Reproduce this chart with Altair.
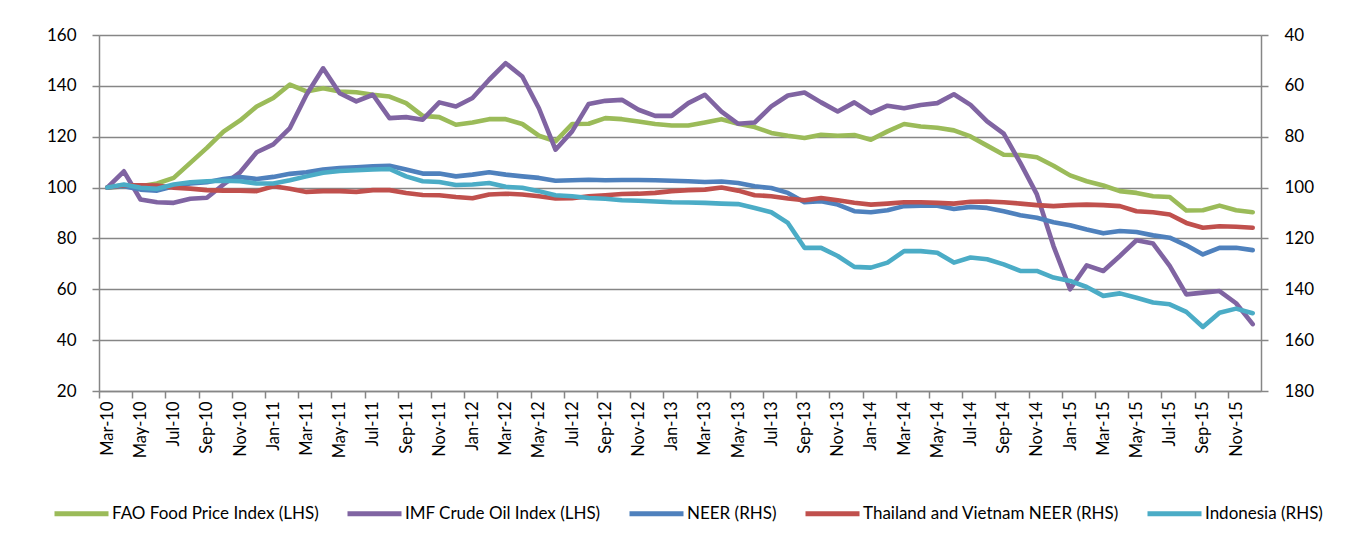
import altair as alt
import pandas as pd

mon = ["Jan", "Feb", "Mar", "Apr", "May", "Jun", "Jul", "Aug", "Sep", "Oct", "Nov", "Dec"]
months = []
for yy in range(10, 16):
    for mi, m in enumerate(mon):
        if yy == 10 and mi < 2:
            continue
        months.append(f"{m}-{yy}")

# Left-hand scale series
fao = [100, 100.4, 100.5, 101.6, 103.8, 109.7, 115.6, 122, 126.4, 131.9,
       135.2, 140.5, 137.8, 139.1, 137.8, 137.5, 136.5, 135.8, 133.2, 128.2,
       127.7, 124.7, 125.6, 126.9, 126.9, 125, 120.4, 118.2, 125, 125.1,
       127.3, 126.9, 126, 125, 124.4, 124.4, 125.6, 126.9, 125.1, 123.8,
       121.5, 120.4, 119.5, 120.8, 120.4, 120.7, 118.8, 122.1, 125, 124,
       123.5, 122.5, 120.1, 116.5, 112.9, 112.8, 111.9, 108.6, 104.8, 102.5,
       100.8, 98.6, 97.9, 96.6, 96.3, 91, 91.1, 92.9, 91.1, 90.3]
oil = [100, 106.4, 95.3, 94.2, 94, 95.6, 96, 101.2, 106, 113.9,
       117, 123.4, 136.5, 146.9, 137.1, 133.9, 136.5, 127.3, 127.7, 126.7,
       133.5, 131.9, 135.2, 142.4, 148.9, 143.7, 131.2, 114.9, 122.1, 132.9,
       134.1, 134.5, 130.6, 128.2, 128.2, 133.2, 136.5, 129.9, 125.1, 125.6,
       131.9, 136.2, 137.4, 133.5, 129.9, 133.5, 129.3, 132.2, 131.2, 132.5,
       133.2, 136.7, 132.5, 126, 121.2, 109.7, 97.3, 77, 60, 69.4,
       67.2, 73.1, 79.3, 78, 69.2, 58, 58.7, 59.3, 54.5, 46.3]

# Right-hand scale series (inverted axis)
neer = [100, 99.5, 100.8, 101.2, 99.5, 98.4, 97.9, 96.6, 95.9, 96.6,
        95.8, 94.6, 94, 92.9, 92.3, 92, 91.6, 91.4, 92.9, 94.5,
        94.5, 95.6, 94.9, 94, 94.9, 95.6, 96.2, 97.3, 97.1, 96.9,
        97.1, 97, 97, 97.1, 97.3, 97.5, 97.8, 97.6, 98.2, 99.5,
        100.2, 102.1, 105.8, 105.4, 106.7, 109.3, 109.7, 108.9, 107.3, 107.1,
        107.1, 108.4, 107.6, 108, 109.3, 110.9, 111.9, 113.6, 114.8, 116.5,
        118, 117.1, 117.5, 118.8, 119.7, 122.7, 126.3, 123.7, 123.7, 124.6]
thvn = [100, 99.1, 99.1, 99.2, 100.1, 100.4, 101, 101.2, 101.2, 101.4,
        99.5, 100.5, 101.7, 101.4, 101.4, 101.7, 101, 101, 102.1, 102.9,
        103, 103.7, 104.2, 102.7, 102.4, 102.7, 103.4, 104.3, 104.2, 103.4,
        103, 102.5, 102.4, 102.1, 101.4, 101, 100.8, 100, 101.2, 103,
        103.4, 104.3, 105, 104.1, 105, 106, 106.7, 106.3, 105.8, 105.8,
        106, 106.3, 105.6, 105.5, 105.8, 106.3, 106.9, 107.3, 106.9, 106.7,
        106.9, 107.3, 109.3, 109.7, 110.6, 113.9, 115.8, 115.2, 115.4, 115.8]
indo = [100, 98.8, 100.1, 100.5, 98.8, 97.9, 97.5, 97.3, 97.5, 98.4,
        98.4, 97.1, 95.6, 94.2, 93.5, 93.2, 92.9, 92.7, 95.6, 97.5,
        97.8, 99, 98.8, 98.2, 99.7, 100.1, 101.4, 103, 103.4, 104.1,
        104.4, 105, 105.2, 105.5, 105.8, 105.9, 106, 106.3, 106.5, 108,
        109.7, 113.9, 123.7, 123.7, 126.9, 131.2, 131.5, 129.5, 125, 125,
        125.6, 129.5, 127.5, 128.2, 130.2, 132.8, 132.8, 135.4, 136.7, 139.1,
        142.6, 141.6, 143.3, 145.2, 145.9, 148.9, 154.8, 149.2, 147.6, 149.4]

names = ["FAO Food Price Index (LHS)", "IMF Crude Oil Index (LHS)", "NEER (RHS)",
         "Thailand and Vietnam NEER (RHS)", "Indonesia (RHS)"]
colors = ["#9BBB59", "#8064A2", "#4F81BD", "#C0504D", "#4BACC6"]
left_ticks = [20, 40, 60, 80, 100, 120, 140, 160]
right_ticks = [40, 60, 80, 100, 120, 140, 160, 180]


def long(series_list, labels):
    rows = []
    for s, lab in zip(series_list, labels):
        for i, v in enumerate(s):
            rows.append({"idx": i, "month": months[i], "series": lab, "value": v})
    return pd.DataFrame(rows)


df_left = long([fao, oil], names[:2])
df_right = long([neer, thvn, indo], names[2:])

n = len(months)
PW, PH = 1162, 356
month_px = PW / n
label_expr = "[" + ",".join(f"'{m}'" for m in months) + "][round(datum.value)]"

gray = "#868686"
FONT = "Lato"

xenc = alt.X("idx:Q", scale=alt.Scale(domain=[-0.5, n - 0.5], nice=False, zero=False),
             axis=alt.Axis(
                 values=list(range(0, n, 2)), labelExpr=label_expr, labelAngle=-90,
                 tickOffset=-month_px / 2, labelOffset=month_px / 2, tickSize=7, tickColor=gray,
                 tickWidth=1.5, domainColor=gray, domainWidth=1.5, labelFontSize=16.5,
                 labelFont=FONT, labelColor="#000000", labelPadding=3, grid=False, title=None,
                 labelOverlap=False,
             ))

color = alt.Color(
    "series:N",
    scale=alt.Scale(domain=names, range=colors),
    legend=alt.Legend(
        title=None, orient="none", direction="horizontal", legendX=-47, legendY=449,
        symbolType="stroke", symbolSize=2916, symbolStrokeWidth=5,
        labelFontSize=17, labelFont=FONT, labelColor="#000000", columnPadding=18,
        labelOffset=1, columns=5, labelLimit=400,
    ),
)

left = alt.Chart(df_left).mark_line(strokeWidth=4.6, strokeJoin="round", strokeCap="round").encode(
    x=xenc,
    y=alt.Y("value:Q", scale=alt.Scale(domain=[20, 160], nice=False, zero=False), axis=alt.Axis(
        values=left_ticks, grid=True, gridColor=gray, gridWidth=1.4, tickSize=7, tickColor=gray,
        tickWidth=1.5, domainColor=gray, domainWidth=1.5, labelFontSize=17, labelFont=FONT,
        labelColor="#000000", labelPadding=16, title=None,
    )),
    color=color,
    order="idx:Q",
)

right = alt.Chart(df_right).mark_line(strokeWidth=4.6, strokeJoin="round", strokeCap="round").encode(
    x=xenc,
    y=alt.Y("value:Q", scale=alt.Scale(domain=[40, 180], nice=False, zero=False, reverse=True),
            axis=alt.Axis(
                orient="right", values=right_ticks, grid=False, tickSize=7, tickColor=gray,
                tickWidth=1.5, domainColor=gray, domainWidth=1.5, labelFontSize=17, labelFont=FONT,
                labelColor="#000000", labelPadding=16, title=None,
            )),
    color=color,
    order="idx:Q",
)

chart = alt.layer(left, right).resolve_scale(y="independent").properties(
    width=PW, height=PH,
    autosize=alt.AutoSizeParams(type="none"),
    padding={"left": 91, "top": 27, "right": 80, "bottom": 145},
).configure_view(stroke=None).configure(background="white")

chart.save("out.html", embed_options={"renderer": "svg", "actions": False})
